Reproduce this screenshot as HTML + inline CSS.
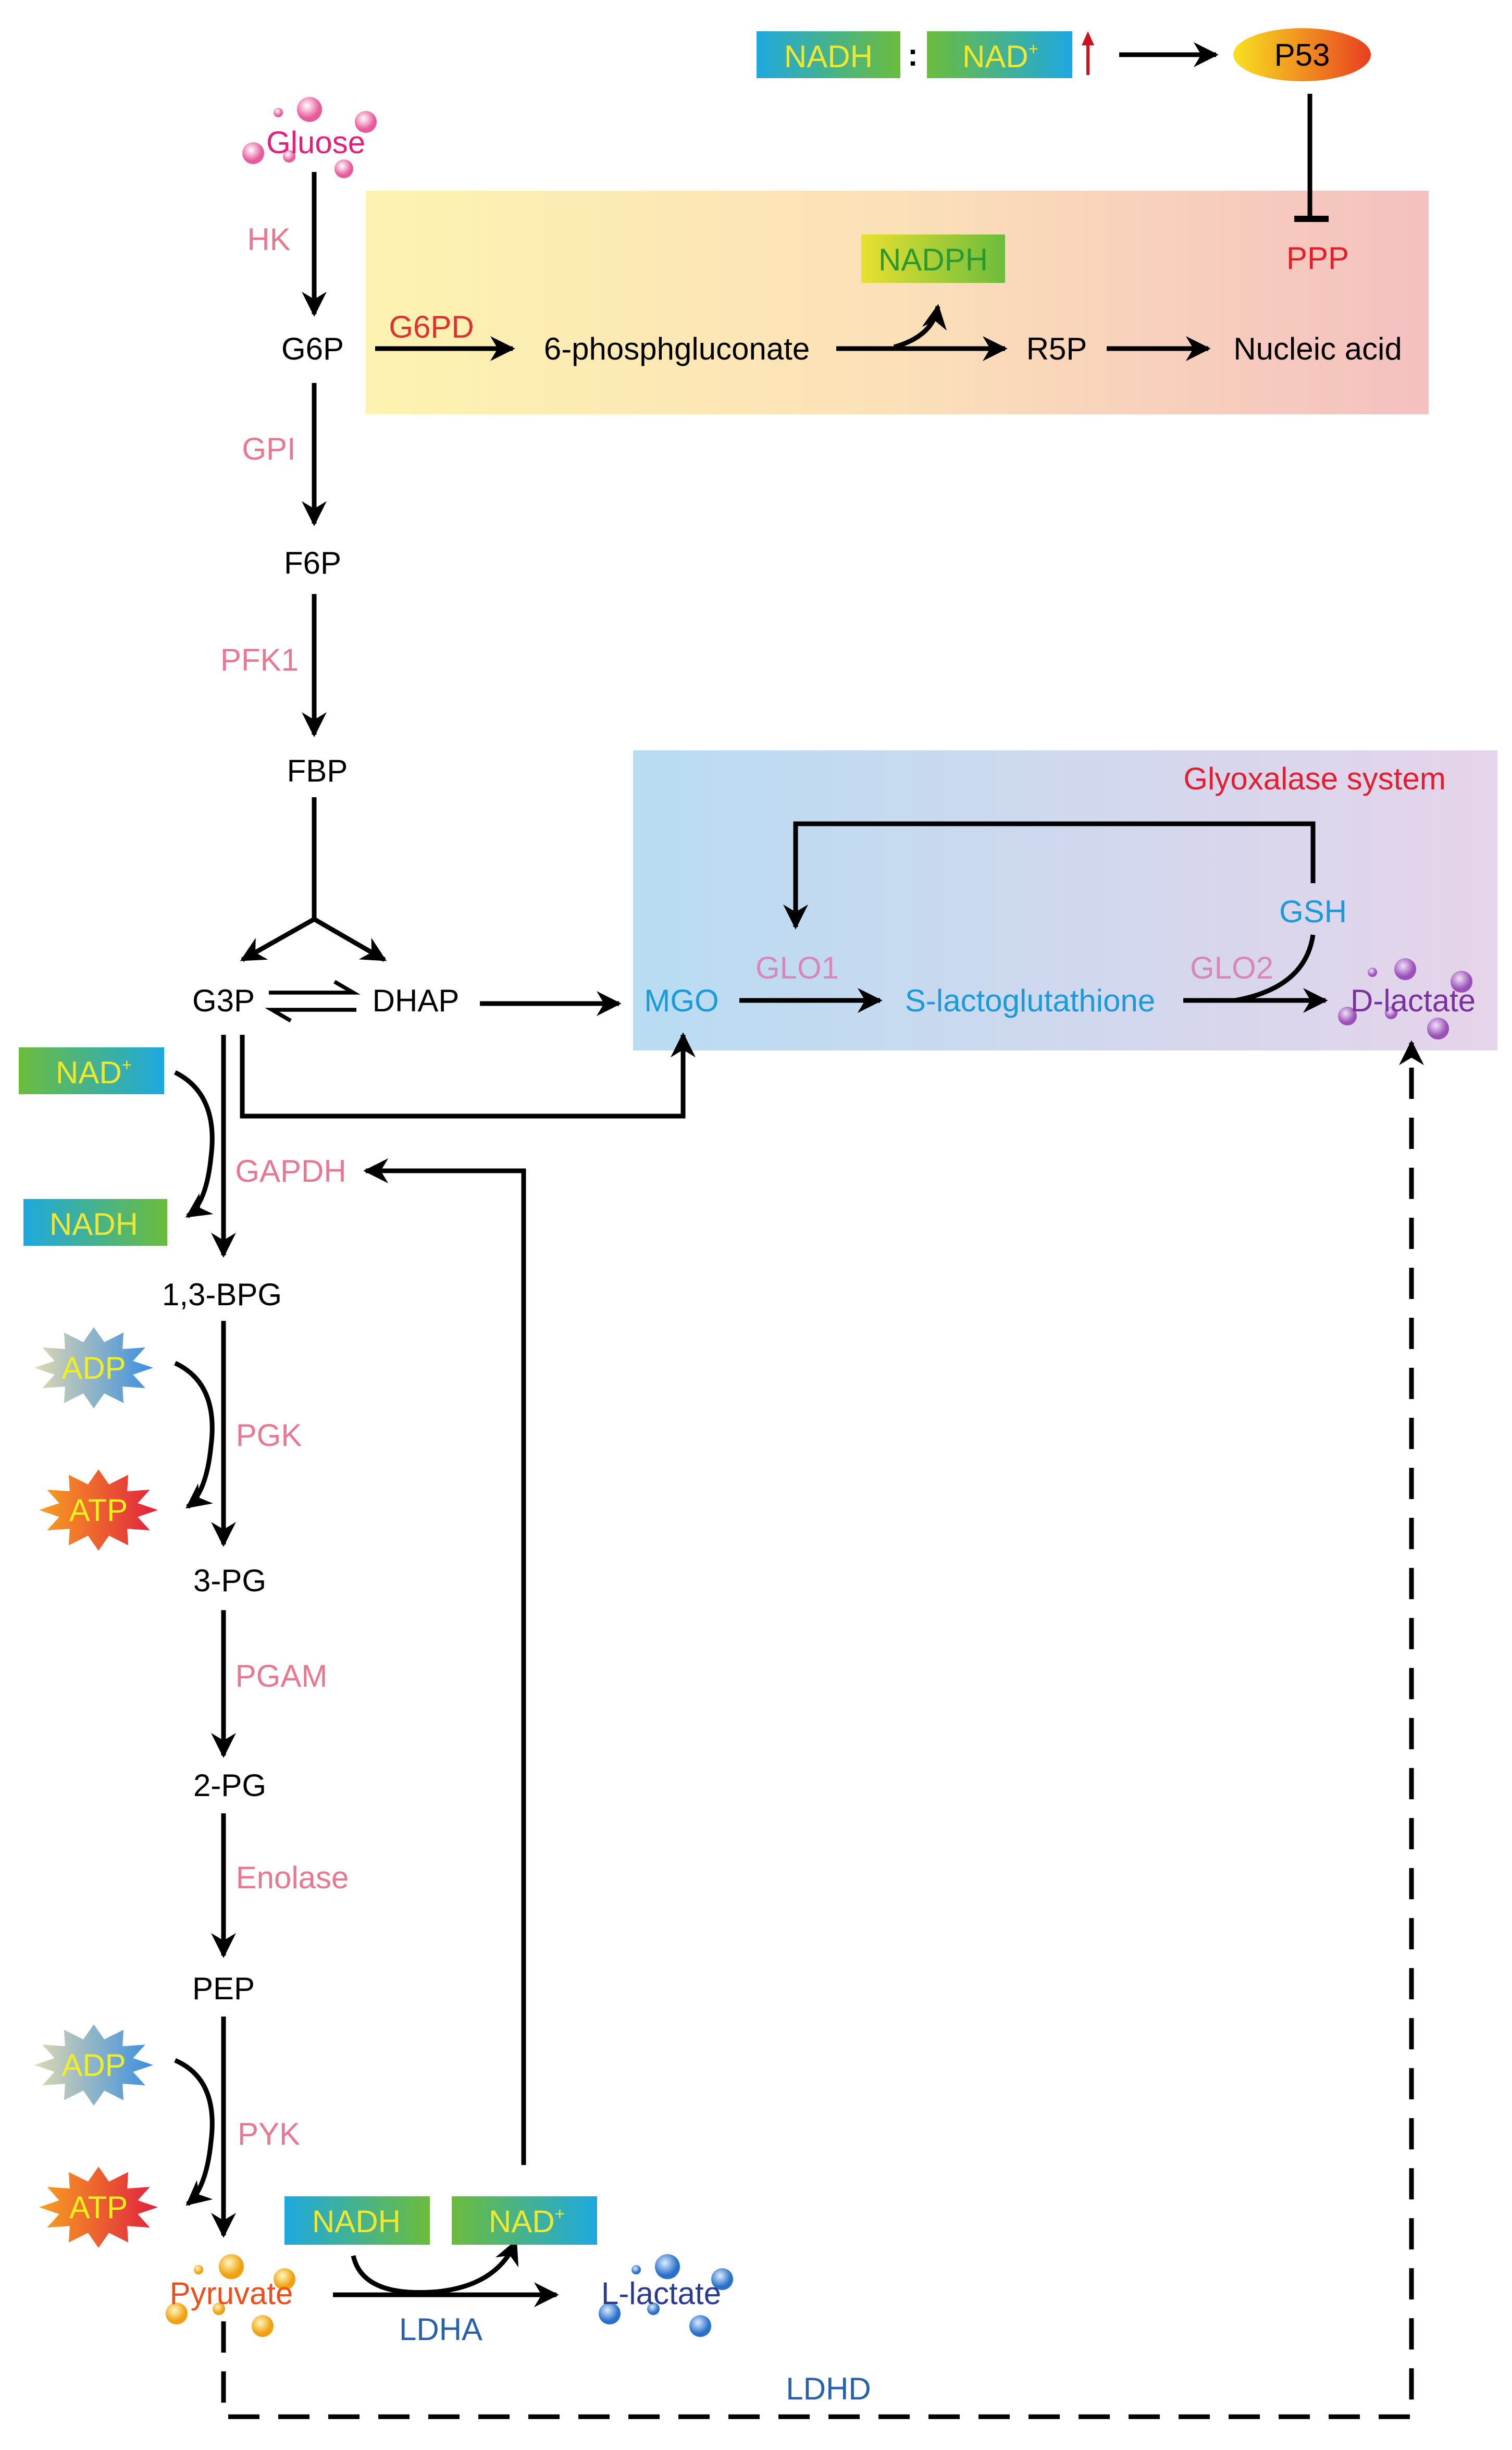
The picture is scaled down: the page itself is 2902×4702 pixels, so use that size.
<!DOCTYPE html>
<html><head><meta charset="utf-8"><style>html,body{margin:0;padding:0;background:#fff}svg{display:block}text{font-family:"Liberation Sans",sans-serif;font-size:20px}</style></head>
<body>
<svg width="2902" height="4702" viewBox="0 0 967.3 1567.3" preserveAspectRatio="none" xmlns="http://www.w3.org/2000/svg">
<defs>
<linearGradient id="ppp" x1="0" x2="1"><stop offset="0" stop-color="#fdf3b0"/><stop offset="0.5" stop-color="#fbe0b8"/><stop offset="1" stop-color="#f4c0c0"/></linearGradient>
<linearGradient id="gly" x1="0" x2="1"><stop offset="0" stop-color="#b8dcf2"/><stop offset="1" stop-color="#e6d4ea"/></linearGradient>
<linearGradient id="bg" x1="0" x2="1"><stop offset="0" stop-color="#1ea8e0"/><stop offset="1" stop-color="#6cbc3c"/></linearGradient>
<linearGradient id="gb" x1="0" x2="1"><stop offset="0" stop-color="#6cbc3c"/><stop offset="1" stop-color="#1ea8e0"/></linearGradient>
<linearGradient id="yg" x1="0" x2="1"><stop offset="0" stop-color="#e8e030"/><stop offset="1" stop-color="#6cbc3c"/></linearGradient>
<linearGradient id="p53" x1="0" x2="1"><stop offset="0" stop-color="#f8e020"/><stop offset="1" stop-color="#e84020"/></linearGradient>
<linearGradient id="adp" x1="0" x2="1"><stop offset="0" stop-color="#e0d8b0"/><stop offset="1" stop-color="#3a8ee0"/></linearGradient>
<linearGradient id="atp" x1="0" x2="1"><stop offset="0" stop-color="#f8a020"/><stop offset="1" stop-color="#e02040"/></linearGradient>
<radialGradient id="pk" cx=".4" cy=".35"><stop offset="0" stop-color="#fff"/><stop offset="1" stop-color="#e85a9a"/></radialGradient>
<radialGradient id="or" cx=".4" cy=".35"><stop offset="0" stop-color="#fff8c0"/><stop offset="1" stop-color="#f0a010"/></radialGradient>
<radialGradient id="bl" cx=".4" cy=".35"><stop offset="0" stop-color="#d8ecff"/><stop offset="1" stop-color="#2a70c8"/></radialGradient>
<radialGradient id="pu" cx=".4" cy=".35"><stop offset="0" stop-color="#f0e0f8"/><stop offset="1" stop-color="#9a50b8"/></radialGradient>
<polygon id="star" points="38,0 25.1,4.4 32.9,13 18.4,12 19,22.5 6.7,16.4 0,26 -6.7,16.4 -19,22.5 -18.4,12 -32.9,13 -25.1,4.4 -38,0 -25.1,-4.4 -32.9,-13 -18.4,-12 -19,-22.5 -6.7,-16.4 0,-26 6.7,-16.4 19,-22.5 18.4,-12 32.9,-13 25.1,-4.4"/>
<marker id="ah" viewBox="0 0 10 10" refX="9" refY="5" markerWidth="6" markerHeight="6" orient="auto" markerUnits="userSpaceOnUse"><path d="M0,0 L10,5 L0,10 L3,5 Z" fill="#000"/></marker>
<marker id="ab" viewBox="0 0 10 10" refX="9" refY="5" markerWidth="16" markerHeight="16" orient="auto" markerUnits="userSpaceOnUse"><path d="M0,0 L10,5 L0,10 L3,5 Z" fill="#000"/></marker>
</defs>

<!-- boxes -->
<rect x="234" y="122" width="680" height="143" fill="url(#ppp)"/>
<rect x="405" y="480" width="553" height="192" fill="url(#gly)"/>

<g stroke="#000" stroke-width="3" fill="none">
<!-- top -->
<line x1="716" y1="35" x2="778" y2="35" marker-end="url(#ab)"/>
<line x1="838" y1="60" x2="838" y2="140"/>
<line x1="828" y1="140" x2="850" y2="140" stroke-width="4"/>
<!-- PPP row -->
<line x1="240" y1="223" x2="328" y2="223" marker-end="url(#ab)"/>
<line x1="535" y1="223" x2="643" y2="223" marker-end="url(#ab)"/>
<path d="M572,222 Q597,215 600,196" marker-end="url(#ab)"/>
<line x1="708" y1="223" x2="773" y2="223" marker-end="url(#ab)"/>
<!-- glycolysis top -->
<line x1="201" y1="110" x2="201" y2="201" marker-end="url(#ab)"/>
<line x1="201" y1="245" x2="201" y2="335" marker-end="url(#ab)"/>
<line x1="201" y1="380" x2="201" y2="470" marker-end="url(#ab)"/>
<path d="M201,510 L201,588"/>
<line x1="201" y1="588" x2="155" y2="614" marker-end="url(#ab)"/>
<line x1="201" y1="588" x2="246" y2="614" marker-end="url(#ab)"/>
<line x1="307" y1="642" x2="396" y2="642" marker-end="url(#ab)"/>
<path d="M155,662 L155,714 L437,714 L437,662" marker-end="url(#ab)"/>
<!-- glyoxalase -->
<path d="M840,565 L840,527 L509,527 L509,593" marker-end="url(#ab)"/>
<line x1="473" y1="640" x2="563" y2="640" marker-end="url(#ab)"/>
<line x1="757" y1="640" x2="848" y2="640" marker-end="url(#ab)"/>
<path d="M840,598 Q835,632 790,640"/>
<!-- main -->
<line x1="143" y1="662" x2="143" y2="803" marker-end="url(#ab)"/>
<path d="M112,686 Q140,700 135,740 Q132,770 120,778" marker-end="url(#ab)"/>
<path d="M335,1385 L335,749 L234,749" marker-end="url(#ab)"/>
<line x1="143" y1="845" x2="143" y2="988" marker-end="url(#ab)"/>
<path d="M112,872 Q140,885 135,925 Q132,955 120,964" marker-end="url(#ab)"/>
<line x1="143" y1="1030" x2="143" y2="1123" marker-end="url(#ab)"/>
<line x1="143" y1="1160" x2="143" y2="1251" marker-end="url(#ab)"/>
<line x1="143" y1="1290" x2="143" y2="1430" marker-end="url(#ab)"/>
<path d="M112,1318 Q140,1330 135,1370 Q132,1400 120,1410" marker-end="url(#ab)"/>
<line x1="213" y1="1468" x2="356" y2="1468" marker-end="url(#ab)"/>
<path d="M226,1443 Q232,1470 280,1466 Q318,1462 330,1434" marker-end="url(#ab)"/>
<path d="M143,1485 L143,1546 L903,1546 L903,667" stroke-dasharray="20,12" marker-end="url(#ab)"/>
</g>
<line x1="696" y1="48" x2="696" y2="26" stroke="#d01020" stroke-width="2"/>
<path d="M692,29 L696,20 L700,29 Z" fill="#d01020"/>

<!-- top boxes -->
<rect x="484" y="20" width="92" height="30" fill="url(#bg)"/>
<text x="530" y="43" text-anchor="middle" fill="#f0e830">NADH</text>
<text x="584" y="42" text-anchor="middle" fill="#000" font-weight="bold">:</text>
<rect x="593" y="20" width="93" height="30" fill="url(#gb)"/>
<text x="640" y="43" text-anchor="middle" fill="#f0e830">NAD<tspan font-size="11" dy="-8">+</tspan></text>
<ellipse cx="833" cy="35" rx="44" ry="17" fill="url(#p53)"/>
<text x="833" y="42" text-anchor="middle" fill="#000">P53</text>

<text x="843" y="172" text-anchor="middle" fill="#e0202a">PPP</text>
<rect x="551" y="150" width="92" height="31" fill="url(#yg)"/>
<text x="597" y="173" text-anchor="middle" fill="#2a9a30">NADPH</text>
<text x="276" y="216" text-anchor="middle" fill="#e03030">G6PD</text>
<text x="200" y="230" text-anchor="middle">G6P</text>
<text x="433" y="230" text-anchor="middle">6-phosphgluconate</text>
<text x="676" y="230" text-anchor="middle">R5P</text>
<text x="843" y="230" text-anchor="middle">Nucleic acid</text>

<!-- gluose bubbles -->
<g fill="url(#pk)"><circle cx="198" cy="70" r="8"/><circle cx="234" cy="78" r="7"/><circle cx="178" cy="72" r="3"/><circle cx="162" cy="98" r="7"/><circle cx="220" cy="108" r="6"/><circle cx="185" cy="100" r="4"/></g>
<text x="202" y="98" text-anchor="middle" fill="#e0207a">Gluose</text>

<g fill="#e87890">
<text x="172" y="160" text-anchor="middle">HK</text>
<text x="172" y="294" text-anchor="middle">GPI</text>
<text x="166" y="429" text-anchor="middle">PFK1</text>
<text x="186" y="756" text-anchor="middle">GAPDH</text>
<text x="172" y="925" text-anchor="middle">PGK</text>
<text x="180" y="1079" text-anchor="middle">PGAM</text>
<text x="187" y="1208" text-anchor="middle">Enolase</text>
<text x="172" y="1372" text-anchor="middle">PYK</text>
</g>
<g fill="#000">
<text x="200" y="367" text-anchor="middle">F6P</text>
<text x="203" y="500" text-anchor="middle">FBP</text>
<text x="143" y="647" text-anchor="middle">G3P</text>
<text x="266" y="647" text-anchor="middle">DHAP</text>
<text x="142" y="835" text-anchor="middle">1,3-BPG</text>
<text x="147" y="1018" text-anchor="middle">3-PG</text>
<text x="147" y="1149" text-anchor="middle">2-PG</text>
<text x="143" y="1279" text-anchor="middle">PEP</text>
</g>
<!-- equilibrium -->
<g stroke="#000" stroke-width="2.5" fill="none">
<path d="M172,635 L226,635 L214,628"/>
<path d="M228,646 L174,646 L186,653"/>
</g>

<!-- glyoxalase texts -->
<text x="841" y="505" text-anchor="middle" fill="#e02030">Glyoxalase system</text>
<text x="840" y="590" text-anchor="middle" fill="#1a9ad8">GSH</text>
<text x="436" y="647" text-anchor="middle" fill="#1a9ad8">MGO</text>
<text x="510" y="626" text-anchor="middle" fill="#d888b8">GLO1</text>
<text x="659" y="647" text-anchor="middle" fill="#1a9ad8">S-lactoglutathione</text>
<text x="788" y="626" text-anchor="middle" fill="#d888b8">GLO2</text>
<g fill="url(#pu)"><circle cx="899" cy="620" r="7"/><circle cx="935" cy="628" r="7"/><circle cx="878" cy="622" r="3"/><circle cx="862" cy="650" r="6"/><circle cx="920" cy="658" r="7"/><circle cx="890" cy="648" r="4"/></g>
<text x="904" y="647" text-anchor="middle" fill="#7a30a0">D-lactate</text>

<!-- NAD boxes left -->
<rect x="12" y="670" width="93" height="30" fill="url(#gb)"/>
<text x="60" y="693" text-anchor="middle" fill="#f0e830">NAD<tspan font-size="11" dy="-8">+</tspan></text>
<rect x="15" y="767" width="92" height="30" fill="url(#bg)"/>
<text x="60" y="790" text-anchor="middle" fill="#f0e830">NADH</text>

<use href="#star" x="60" y="875" fill="url(#adp)"/>
<text x="60" y="882" text-anchor="middle" fill="#f0f020">ADP</text>
<use href="#star" x="63" y="966" fill="url(#atp)"/>
<text x="63" y="973" text-anchor="middle" fill="#f0f020">ATP</text>
<use href="#star" x="60" y="1321" fill="url(#adp)"/>
<text x="60" y="1328" text-anchor="middle" fill="#f0f020">ADP</text>
<use href="#star" x="63" y="1412" fill="url(#atp)"/>
<text x="63" y="1419" text-anchor="middle" fill="#f0f020">ATP</text>

<!-- bottom -->
<rect x="182" y="1405" width="93" height="31" fill="url(#bg)"/>
<text x="228" y="1428" text-anchor="middle" fill="#f0e830">NADH</text>
<rect x="289" y="1405" width="93" height="31" fill="url(#gb)"/>
<text x="337" y="1428" text-anchor="middle" fill="#f0e830">NAD<tspan font-size="11" dy="-8">+</tspan></text>
<g fill="url(#or)"><circle cx="148" cy="1450" r="8"/><circle cx="182" cy="1458" r="7"/><circle cx="127" cy="1452" r="3"/><circle cx="113" cy="1480" r="7"/><circle cx="168" cy="1488" r="7"/><circle cx="140" cy="1477" r="4"/></g>
<text x="148" y="1474" text-anchor="middle" fill="#e85020">Pyruvate</text>
<text x="282" y="1497" text-anchor="middle" fill="#2a60a8">LDHA</text>
<g fill="url(#bl)"><circle cx="427" cy="1450" r="8"/><circle cx="462" cy="1458" r="7"/><circle cx="407" cy="1452" r="3"/><circle cx="390" cy="1480" r="7"/><circle cx="448" cy="1488" r="7"/><circle cx="418" cy="1477" r="4"/></g>
<text x="423" y="1474" text-anchor="middle" fill="#2a3a90">L-lactate</text>
<text x="530" y="1535" text-anchor="middle" fill="#2a60a8">LDHD</text>
</svg>
</body></html>
